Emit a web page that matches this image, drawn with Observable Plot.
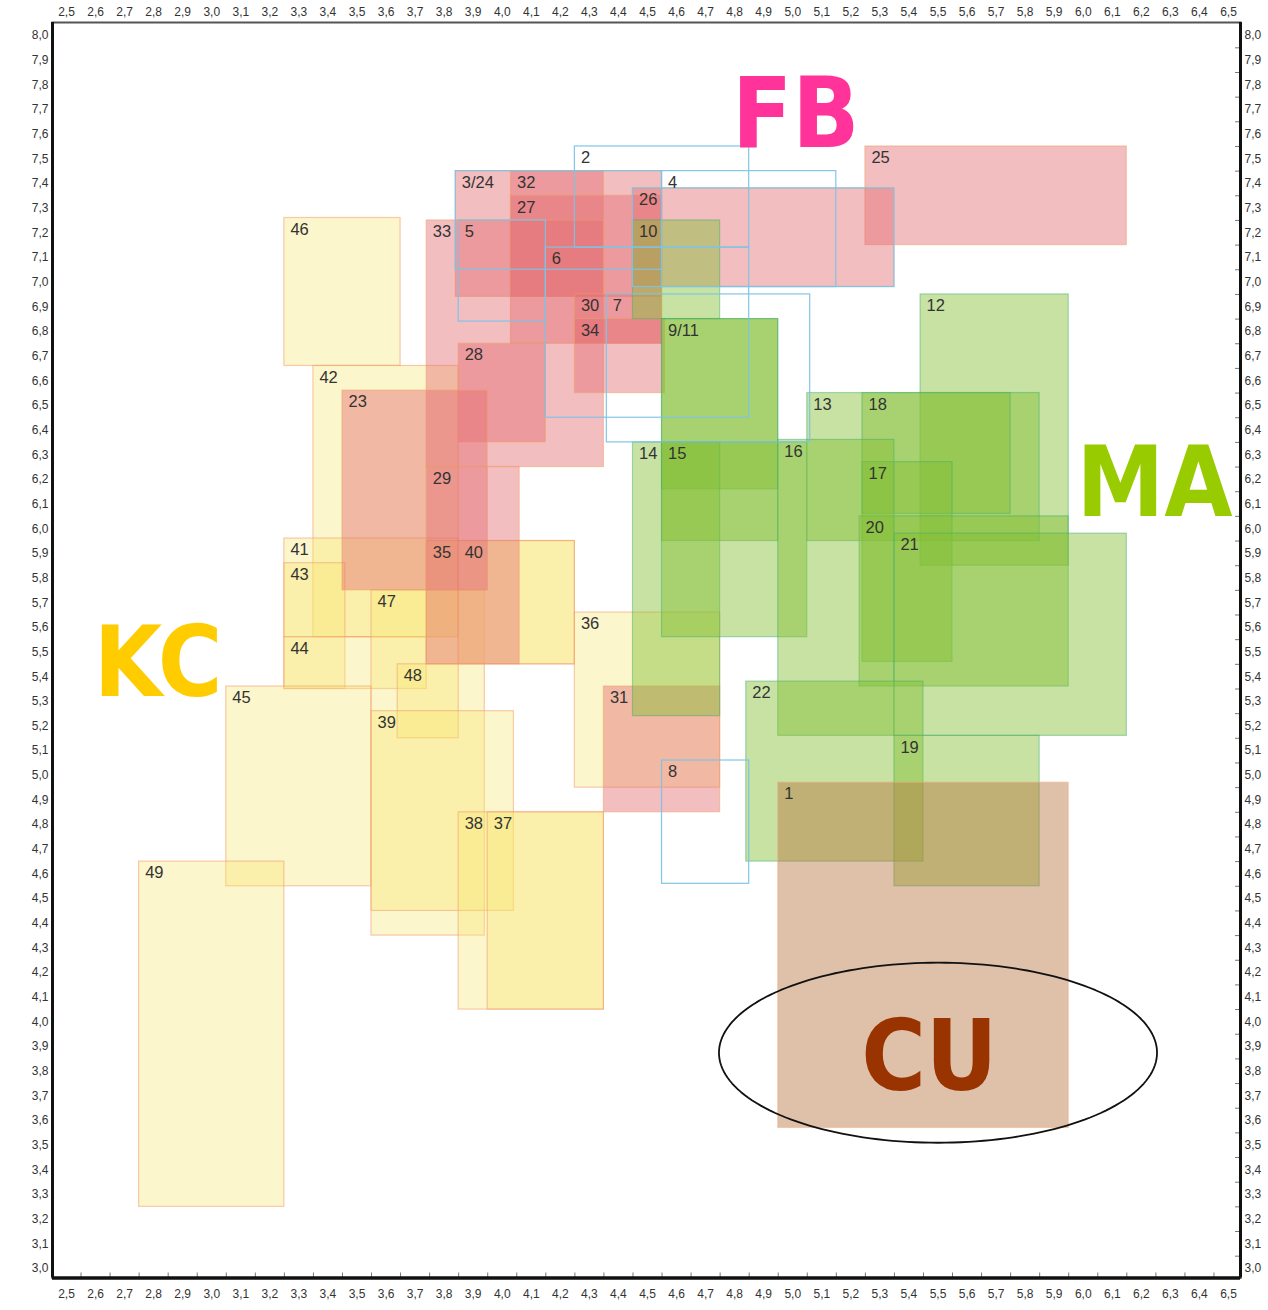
<!DOCTYPE html>
<html><head><meta charset="utf-8">
<script src="https://cdn.jsdelivr.net/npm/d3@7"></script>
<script src="https://cdn.jsdelivr.net/npm/@observablehq/plot@0.6"></script>
<style>
body{margin:0;background:#fff;}
#chart svg{display:block;background:linear-gradient(to right,#fff 0,#fff 7px,#ccffcc 7px);}
</style></head><body><div id="chart"></div>
<script>
// ---- DATA (rectangles: group, x-from, x-to, y-from, y-to, label) ----
const kcIds    = ["46","42","41","43","44","45","47","48","39","35","40","36","38","37","49"];
const kcX1     = [3.25,3.35,3.25,3.25,3.25,3.05,3.55,3.64,3.55,3.74,3.85,4.25,3.85,3.95,2.75];
const kcX2     = [3.65,3.85,3.85,3.46,3.74,3.55,3.94,3.85,4.04,4.25,4.25,4.75,4.35,4.35,3.25];
const kcY1     = [6.66,5.56,5.56,5.35,5.35,4.55,4.35,5.15,4.45,5.45,5.45,4.95,4.05,4.05,3.25];
const kcY2     = [7.26,6.66,5.96,5.86,5.56,5.36,5.75,5.45,5.26,5.95,5.95,5.66,4.85,4.85,4.65];
const kcLabels = ["46","42","41","43","44","45","47","48","39","35","40","36","38","37","49"];

const fbIds    = ["24","32","27","33","30","34","28","23","29","31","25","26"];
const fbX1     = [3.84,4.03,4.03,3.74,4.25,4.25,3.85,3.45,3.74,4.35,5.25,4.45];
const fbX2     = [4.55,4.35,4.55,4.35,4.55,4.56,4.15,3.95,4.06,4.75,6.15,5.35];
const fbY1     = [6.94,6.94,6.75,6.25,6.75,6.55,6.35,5.75,5.45,4.85,7.15,6.98];
const fbY2     = [7.45,7.45,7.35,7.25,6.95,6.85,6.75,6.56,6.25,5.36,7.55,7.38];
const fbLabels = ["3/24","32","27","33","30","34","28","23","29","31","25","26"];

const maIds    = ["10","9","11","12","13","18","17","20","21","14","15","16","22","19"];
const maX1     = [4.45,4.55,4.55,5.44,5.05,5.24,5.24,5.23,5.35,4.45,4.55,4.95,4.84,5.35];
const maX2     = [4.75,4.95,4.95,5.95,5.85,5.75,5.55,5.95,6.15,4.75,5.05,5.35,5.45,5.85];
const maY1     = [6.85,6.16,5.95,5.85,5.95,6.06,5.46,5.36,5.16,5.24,5.56,5.16,4.65,4.55];
const maY2     = [7.25,6.85,6.85,6.95,6.55,6.55,6.27,6.05,5.98,6.35,6.35,6.36,5.38,5.16];
const maLabels = ["10","9/11","","12","13","18","17","20","21","14","15","16","22","19"];

const cuIds    = ["1"];
const cuX1     = [4.95];
const cuX2     = [5.95];
const cuY1     = [3.57];
const cuY2     = [4.97];
const cuLabels = ["1"];

const blIds    = ["2","3","4","5","6","7","8","26"];
const blX1     = [4.25,3.84,4.55,3.85,4.15,4.36,4.55,4.45];
const blX2     = [4.85,4.55,5.15,4.15,4.85,5.06,4.85,5.35];
const blY1     = [7.14,7.05,6.98,6.84,6.45,6.35,4.56,6.98];
const blY2     = [7.55,7.45,7.45,7.25,7.14,6.95,5.06,7.38];
const blLabels = ["2","","4","5","6","7","8",""];

const groupNames = ["FB","MA","KC","CU"];
const groupNameX = [5.01,6.245,2.815,5.47];
const groupNameY = [7.675,6.18,5.45,3.85];

const xTickValues = d3.range(25, 66).map(d => d / 10);
const yTickValues = d3.range(30, 81).map(d => d / 10);

// ---- build tables ----
function table(ids, x1, x2, y1, y2, labels) {
  return ids.map((id, i) => ({id, x1: x1[i], x2: x2[i], y1: y1[i], y2: y2[i], label: labels[i]}));
}
const kc = table(kcIds, kcX1, kcX2, kcY1, kcY2, kcLabels);
const fb = table(fbIds, fbX1, fbX2, fbY1, fbY2, fbLabels);
const ma = table(maIds, maX1, maX2, maY1, maY2, maLabels);
const cu = table(cuIds, cuX1, cuX2, cuY1, cuY2, cuLabels);
const bl = table(blIds, blX1, blX2, blY1, blY2, blLabels);
const allLabels = [...kc, ...fb, ...ma, ...cu, ...bl].filter(d => d.label);
const names = groupNames.map((n, i) => ({n, x: groupNameX[i], y: groupNameY[i]}));
const nameColor = {FB: "#ff3399", MA: "#99cc00", KC: "#ffcc00", CU: "#993300"};

const xDomain = [2.4518, 6.5413];
const yDomain = [2.9615, 8.0527];
const pxX = 290.5, pxY = 246.6;
const xMid = xTickValues.slice(0, -1).map(v => v + 0.05);
const yMid = yTickValues.slice(0, -1).map(v => v + 0.05);
const fmt = d => d.toFixed(1).replace(".", ",");

// ellipse around CU
const ell = {cx: 5.5, cy: 3.875, rx: 0.754, ry: 0.365};
const ellPts = d3.range(0, 361, 2).map(a => ({
  x: ell.cx + ell.rx * Math.cos(a * Math.PI / 180),
  y: ell.cy + ell.ry * Math.sin(a * Math.PI / 180)
}));

const rectOpts = (fill, fo, stroke, so) => ({x1: "x1", x2: "x2", y1: "y1", y2: "y2",
  fill, fillOpacity: fo, stroke, strokeOpacity: so, strokeWidth: 1.2});

const plot = Plot.plot({
  width: 1268, height: 1310,
  marginLeft: 52, marginRight: 28, marginTop: 22, marginBottom: 32.5,
  x: {domain: xDomain, label: null},
  y: {domain: yDomain, label: null},
  style: {background: "transparent", fontFamily: "'Liberation Sans', Arial, sans-serif", fontSize: "12px", color: "#333"},
  marks: [
    Plot.frame({fill: "white", stroke: null}),
    Plot.rect(kc, rectOpts("rgb(245,230,110)", 0.35, "#f2a070", 0.55)),
    Plot.rect(fb, rectOpts("rgb(228,110,115)", 0.45, "#f0a068", 0.5)),
    Plot.rect(ma, rectOpts("rgb(130,190,50)", 0.45, "#3fae6a", 0.45)),
    Plot.rect(cu, rectOpts("rgb(185,115,65)", 0.45, "#f0b080", 0.5)),
    Plot.rect(bl, rectOpts("none", 0, "#7cc3e6", 0.95)),
    Plot.text(allLabels, {x: "x1", y: "y2", text: "label", textAnchor: "start", lineAnchor: "top",
      dx: 6, dy: 5, fontSize: 16.5, fill: "#333"}),
    Plot.line(ellPts, {x: "x", y: "y", stroke: "#111", strokeWidth: 1.8}),
    Plot.text(names, {x: "x", y: "y", text: "n", fill: d => nameColor[d.n], fontSize: 98, fontWeight: "bold",
      fontFamily: "'DejaVu Sans Condensed', 'DejaVu Sans', sans-serif", fontStretch: "condensed"}),
    Plot.ruleX(xMid, {y1: yDomain[0], y2: yDomain[0] + 5 / pxY, stroke: "#777", strokeWidth: 1}),
    Plot.ruleY(yMid, {x1: xDomain[1] - 5 / pxX, x2: xDomain[1], stroke: "#777", strokeWidth: 1}),
    Plot.frame({stroke: "#555", strokeWidth: 2}),
    Plot.ruleX([xDomain[0], xDomain[1]], {stroke: "#111", strokeWidth: 3}),
    Plot.ruleY([yDomain[0]], {stroke: "#111", strokeWidth: 3.5}),
    Plot.axisX(xTickValues, {anchor: "top", tickSize: 0, tickPadding: 7, tickFormat: fmt, fill: "#333"}),
    Plot.axisX(xTickValues, {anchor: "bottom", tickSize: 0, tickPadding: 11, tickFormat: fmt, fill: "#333"}),
    Plot.axisY(yTickValues, {anchor: "left", tickSize: 0, tickPadding: 4, tickFormat: fmt, fill: "#333"}),
    Plot.axisY(yTickValues, {anchor: "right", tickSize: 0, tickPadding: 4, tickFormat: fmt, fill: "#333"})
  ]
});
document.getElementById("chart").appendChild(plot);
</script></body></html>
